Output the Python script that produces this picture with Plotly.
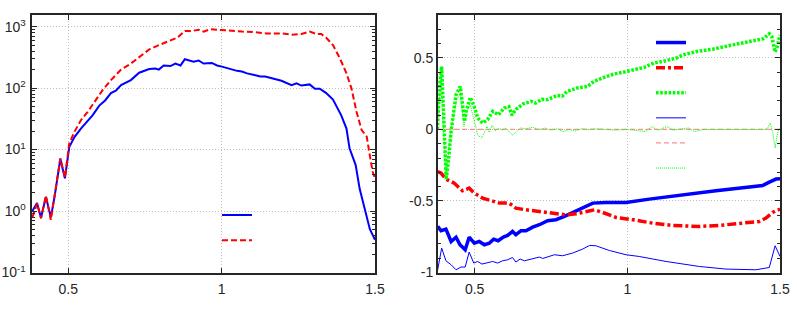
import plotly.graph_objects as go

# ---------------- data: left panel (log scale) ----------------
left_blue_x = [0.383, 0.398, 0.411, 0.427, 0.443, 0.456, 0.474, 0.489, 0.503, 0.52, 0.541, 0.56,
               0.579, 0.601, 0.62, 0.639, 0.655, 0.672, 0.704, 0.731, 0.764, 0.784, 0.795, 0.811,
               0.833, 0.849, 0.866, 0.880, 0.898, 0.909, 0.925, 0.941, 0.968, 0.985, 1.001, 1.028,
               1.05, 1.066, 1.083, 1.11, 1.126, 1.142, 1.168, 1.195, 1.228, 1.244, 1.26, 1.287,
               1.304, 1.32, 1.341, 1.363, 1.39, 1.407, 1.417, 1.426, 1.437, 1.45, 1.467, 1.483, 1.5]
left_blue_y = [1.0, 1.35, 0.78, 1.7, 0.79, 1.8, 7.1, 3.4, 11, 16, 22, 28,
               36, 52, 63, 83, 91, 112, 135, 178, 204, 209, 200, 234,
               229, 251, 234, 295, 282, 269, 282, 251, 257, 234, 224, 204,
               191, 186, 174, 162, 155, 155, 145, 132, 112, 120, 110, 115,
               98, 98, 83, 65, 36, 22, 10.5, 7.6, 5.6, 2.3, 1.1, 0.51, 0.34]

left_red_x = [0.383, 0.398, 0.411, 0.427, 0.443, 0.456, 0.474, 0.489, 0.503, 0.52, 0.541, 0.563,
              0.585, 0.612, 0.639, 0.672, 0.704, 0.737, 0.764, 0.795, 0.822, 0.855, 0.880, 0.903,
              0.925, 0.941, 0.963, 0.99, 1.023, 1.066, 1.11, 1.147, 1.195, 1.228, 1.26, 1.287,
              1.309, 1.325, 1.341, 1.363, 1.385, 1.407, 1.423, 1.44, 1.456, 1.473, 1.483, 1.492, 1.5]
left_red_y = [0.79, 1.32, 0.76, 1.78, 0.72, 1.78, 7.2, 3.5, 12.6, 19.5, 30, 41,
              60, 93, 135, 200, 251, 339, 427, 501, 575, 661, 851, 851,
              891, 832, 912, 891, 851, 832, 813, 776, 776, 741, 759, 832,
              759, 759, 661, 501, 309, 174, 100, 41, 21, 16.2, 8.1, 4.4, 3.4]

# ---------------- data: right panel ----------------
thick_blue_x = [0.379, 0.39, 0.406, 0.423, 0.439, 0.452, 0.469, 0.482, 0.499, 0.515, 0.532, 0.548,
                0.562, 0.577, 0.594, 0.608, 0.624, 0.635, 0.652, 0.668, 0.69, 0.712, 0.739, 0.766,
                0.794, 0.821, 0.848, 0.87, 0.887, 0.93, 0.996, 1.072, 1.181, 1.29, 1.40, 1.443,
                1.465, 1.487, 1.5]
thick_blue_y = [-0.678, -0.708, -0.697, -0.783, -0.753, -0.806, -0.841, -0.753, -0.795, -0.783, -0.806, -0.795,
                -0.767, -0.778, -0.753, -0.741, -0.713, -0.736, -0.708, -0.708, -0.683, -0.666, -0.638, -0.631,
                -0.608, -0.580, -0.555, -0.527, -0.515, -0.510, -0.510, -0.487, -0.457, -0.429, -0.403, -0.392,
                -0.368, -0.347, -0.345]

thick_red_x = [0.379, 0.39, 0.406, 0.433, 0.46, 0.482, 0.499, 0.526, 0.553, 0.581, 0.613, 0.635,
               0.668, 0.712, 0.755, 0.799, 0.832, 0.865, 0.892, 0.919, 0.963, 1.017, 1.083, 1.148,
               1.214, 1.236, 1.301, 1.367, 1.432, 1.454, 1.476, 1.492, 1.5]
thick_red_y = [-0.294, -0.305, -0.347, -0.375, -0.429, -0.41, -0.445, -0.48, -0.497, -0.515, -0.515, -0.55,
               -0.562, -0.573, -0.58, -0.597, -0.59, -0.573, -0.562, -0.58, -0.615, -0.631, -0.655, -0.671,
               -0.673, -0.678, -0.671, -0.659, -0.643, -0.62, -0.58, -0.562, -0.56]

thick_green_x = [0.378, 0.385, 0.392, 0.397, 0.402, 0.407, 0.415, 0.423, 0.439, 0.453, 0.467, 0.472,
                 0.486, 0.5, 0.51, 0.526, 0.542, 0.559, 0.578, 0.597, 0.612, 0.622, 0.635, 0.66,
                 0.685, 0.70, 0.72, 0.738, 0.771, 0.787, 0.803, 0.836, 0.869, 0.891, 0.924, 0.956,
                 0.989, 1.022, 1.055, 1.087, 1.118, 1.161, 1.183, 1.227, 1.282, 1.336, 1.391, 1.445,
                 1.465, 1.473, 1.484, 1.491, 1.5]
thick_green_y = [0.0, 0.3, 0.44, 0.2, -0.1, -0.35, -0.2, -0.01, 0.243, 0.30, 0.056, 0.126,
                 0.224, 0.15, 0.08, 0.045, 0.068, 0.126, 0.103, 0.15, 0.16, 0.10, 0.14, 0.18,
                 0.196, 0.185, 0.21, 0.208, 0.238, 0.233, 0.266, 0.29, 0.30, 0.336, 0.364, 0.387,
                 0.401, 0.417, 0.434, 0.464, 0.476, 0.499, 0.522, 0.545, 0.562, 0.587, 0.608, 0.634,
                 0.669, 0.65, 0.541, 0.58, 0.66]

thin_blue_x = [0.379, 0.392, 0.406, 0.423, 0.439, 0.455, 0.469, 0.482, 0.497, 0.51, 0.524, 0.542,
               0.559, 0.575, 0.592, 0.608, 0.624, 0.635, 0.649, 0.663, 0.685, 0.712, 0.723, 0.761,
               0.788, 0.821, 0.854, 0.876, 0.897, 0.941, 0.996, 1.039, 1.127, 1.236, 1.323, 1.421,
               1.465, 1.484, 1.5]
thin_blue_y = [-0.981, -0.829, -0.918, -0.946, -0.981, -0.962, -0.962, -0.857, -0.934, -0.923, -0.941, -0.934,
               -0.923, -0.934, -0.918, -0.911, -0.895, -0.927, -0.906, -0.918, -0.906, -0.892, -0.902, -0.876,
               -0.883, -0.864, -0.836, -0.811, -0.813, -0.846, -0.876, -0.888, -0.923, -0.958, -0.976, -0.981,
               -0.965, -0.813, -0.888]

thin_red_x = [0.38, 0.6, 0.8, 1.0, 1.2, 1.4, 1.5]
thin_red_y = [0.0, 0.0, 0.0, 0.0, 0.0, 0.0, 0.0]

thin_green_x = [0.378, 0.39, 0.398, 0.406, 0.423, 0.44, 0.453, 0.465, 0.472, 0.486, 0.5, 0.51,
                0.522, 0.53, 0.54, 0.548, 0.557, 0.567, 0.58, 0.59, 0.6, 0.615, 0.625, 0.635,
                0.65, 0.67, 0.69, 0.71, 0.73, 0.75, 0.77, 0.79, 0.81, 0.83, 0.85, 0.87,
                0.9, 0.93, 0.96, 1.0, 1.03, 1.06, 1.08, 1.1, 1.13, 1.15, 1.18, 1.2,
                1.22, 1.25, 1.3, 1.35, 1.4, 1.45, 1.46, 1.468, 1.476, 1.484, 1.49, 1.495, 1.5]
thin_green_y = [0.05, 0.35, 0.0, -0.33, 0.0, 0.2, 0.25, 0.02, 0.12, 0.17, 0.05, -0.04,
                -0.06, -0.03, 0.02, -0.02, 0.03, -0.01, 0.01, -0.005, 0.01, -0.02, -0.04, -0.02,
                0.01, 0.005, 0.015, 0.0, 0.01, -0.005, 0.005, -0.015, 0.0, -0.01, 0.005, 0.0,
                0.005, 0.0, -0.005, 0.0, -0.005, -0.015, 0.02, -0.005, 0.02, -0.005, 0.005, 0.01,
                -0.015, 0.0, 0.0, 0.0, 0.0, 0.0, 0.01, 0.045, -0.02, -0.13, -0.05, 0.0, 0.01]

# ---------------- tick labels ----------------
x_tickvals = [0.5, 1, 1.5]
x_ticktext = ["0.5", "1", "1.5"]
left_tickvals = [0.1, 1, 10, 100, 1000]
left_ticktext = ["10<sup>-1</sup>", "10<sup>0</sup>", "10<sup>1</sup>", "10<sup>2</sup>", "10<sup>3</sup>"]
right_tickvals = [-1, -0.5, 0, 0.5]
right_ticktext = ["-1", "-0.5", "0", "0.5"]

BLUE = "#0000ff"
RED = "#ff0000"
GREEN = "#00ff00"
SALMON = "#ff9090"
AX = "#262626"
GRID = "#bdbdbd"

fig = go.Figure()
fig.add_trace(go.Scatter(x=left_blue_x, y=left_blue_y, mode="lines", name=" ",
                         line=dict(color=BLUE, width=2), xaxis="x", yaxis="y", legend="legend"))
fig.add_trace(go.Scatter(x=left_red_x, y=left_red_y, mode="lines", name=" ",
                         line=dict(color=RED, width=2, dash="6px,3px"), xaxis="x", yaxis="y", legend="legend"))

fig.add_trace(go.Scatter(x=thick_blue_x, y=thick_blue_y, mode="lines", name=" ",
                         line=dict(color=BLUE, width=3.5), xaxis="x2", yaxis="y2", legend="legend2"))
fig.add_trace(go.Scatter(x=thick_red_x, y=thick_red_y, mode="lines", name=" ",
                         line=dict(color=RED, width=3.5, dash="9px,3px,3px,3px"), xaxis="x2", yaxis="y2", legend="legend2"))
fig.add_trace(go.Scatter(x=thick_green_x, y=thick_green_y, mode="lines", name=" ",
                         line=dict(color=GREEN, width=3.5, dash="2.6px,1.6px"), xaxis="x2", yaxis="y2", legend="legend2"))
fig.add_trace(go.Scatter(x=thin_blue_x, y=thin_blue_y, mode="lines", name=" ",
                         line=dict(color=BLUE, width=1), xaxis="x2", yaxis="y2", legend="legend2"))
fig.add_trace(go.Scatter(x=thin_red_x, y=thin_red_y, mode="lines", name=" ",
                         line=dict(color=SALMON, width=1.2, dash="5px,3px"), xaxis="x2", yaxis="y2", legend="legend2"))
fig.add_trace(go.Scatter(x=thin_green_x, y=thin_green_y, mode="lines", name=" ",
                         line=dict(color=GREEN, width=1, dash="1px,1px"), xaxis="x2", yaxis="y2", legend="legend2"))

W, H = 797, 321
tickfont = dict(family="Liberation Sans, Arial, sans-serif", size=14, color=AX)

def xaxis_common(domain, anchor):
    return dict(domain=domain, range=[0.38, 1.5], tickmode="array", tickvals=x_tickvals, ticktext=x_ticktext,
                ticks="inside", ticklen=5, tickcolor=AX, tickwidth=1, showline=True, linecolor=AX, linewidth=2,
                mirror="allticks", showgrid=True, gridcolor=GRID, griddash="1px,2px", gridwidth=1,
                zeroline=False, tickfont=tickfont, automargin=False, anchor=anchor, ticklabelstandoff=3)

ydom = [1 - 272.5 / H, 1 - 15 / H]
left_minor = [m * 10 ** e for e in (-1, 0, 1, 2, 3) for m in range(2, 10)]

fig.update_layout(
    width=W, height=H,
    margin=dict(l=0, r=0, t=0, b=0, pad=0, autoexpand=False),
    paper_bgcolor="white", plot_bgcolor="white",
    showlegend=True,
    xaxis=xaxis_common([31.5 / W, 375 / W], "y"),
    xaxis2=xaxis_common([438 / W, 780 / W], "y2"),
    yaxis=dict(domain=ydom, type="log", range=[-1, 3.19], tickmode="array", tickvals=left_tickvals,
               ticktext=left_ticktext, ticks="inside", ticklen=5, tickcolor=AX, showline=True, linecolor=AX,
               linewidth=2, mirror="allticks", showgrid=True, gridcolor=GRID, griddash="1px,2px", gridwidth=1,
               zeroline=False, tickfont=tickfont, anchor="x", automargin=False, ticklabelstandoff=1,
               minor=dict(tickmode="array", tickvals=left_minor, ticks="inside", ticklen=3, tickcolor=AX, showgrid=False)),
    yaxis2=dict(domain=ydom, range=[-1, 0.8], tickmode="array", tickvals=right_tickvals,
                ticktext=right_ticktext, ticks="inside", ticklen=5, tickcolor=AX, showline=True, linecolor=AX,
                linewidth=2, mirror="allticks", showgrid=True, gridcolor=GRID, griddash="1px,2px", gridwidth=1,
                zeroline=False, tickfont=tickfont, anchor="x2", automargin=False,
                minor=dict(tickmode="linear", tick0=0, dtick=0.1, ticks="inside", ticklen=3, tickcolor=AX, showgrid=False)),
    legend=dict(x=217 / W, y=1 - 197.5 / H, xanchor="left", yanchor="top", bgcolor="rgba(0,0,0,0)",
                font=dict(size=17), tracegroupgap=0, borderwidth=0),
    legend2=dict(x=651 / W, y=1 - 25 / H, xanchor="left", yanchor="top", bgcolor="rgba(0,0,0,0)",
                 font=dict(size=17), tracegroupgap=0, borderwidth=0),
)

fig.write_html("out.html", config={"displayModeBar": False},
               post_script="document.body.style.margin='0px';document.body.style.padding='0px';")
